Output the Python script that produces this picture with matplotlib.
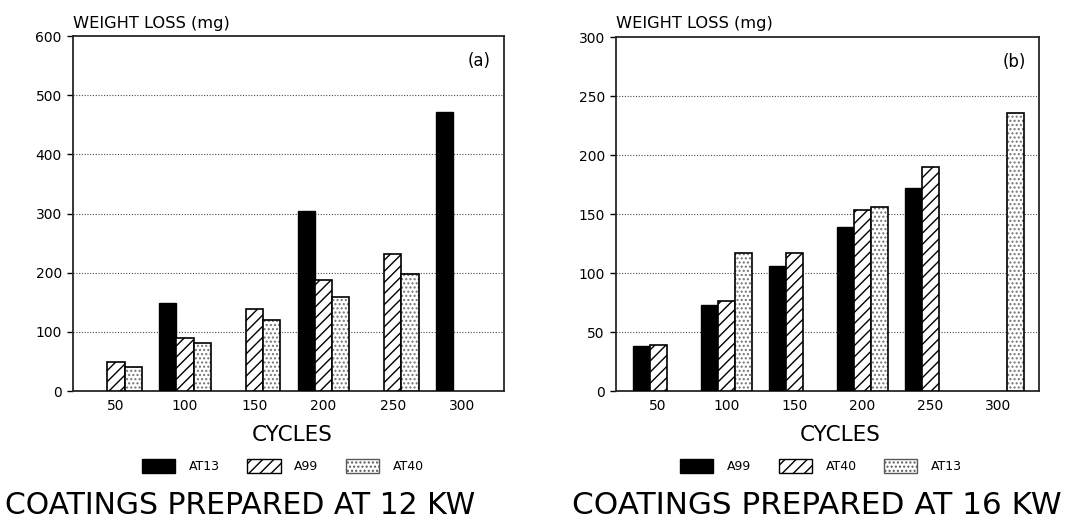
import matplotlib
matplotlib.use("Agg")
import matplotlib.pyplot as plt
import matplotlib.patches as mpatches
import numpy as np

plt.rcParams['hatch.linewidth'] = 1.0
plt.rcParams['font.family'] = ['DejaVu Sans']

cycles = ["50", "100", "150", "200", "250", "300"]

# Panel (a): coatings prepared at 12 kW
a_labels = ["AT13", "A99", "AT40"]
a_at13 = [0, 148, 0, 305, 0, 472]
a_a99 = [49, 90, 139, 187, 232, 0]
a_at40 = [40, 81, 120, 159, 198, 0]

# Panel (b): coatings prepared at 16 kW
b_labels = ["A99", "AT40", "AT13"]
b_a99 = [38, 73, 106, 139, 172, 0]
b_at40 = [39, 76, 117, 153, 190, 0]
b_at13 = [0, 117, 0, 156, 0, 236]

fig = plt.figure(figsize=(10.67, 5.19), dpi=100)
axa = fig.add_axes([0.0684, 0.2466, 0.404, 0.684])
axb = fig.add_axes([0.5773, 0.2466, 0.3964, 0.6821])

W = 0.25
SOLID = dict(facecolor='black', edgecolor='black', linewidth=1.0)
HATCH = dict(facecolor='white', edgecolor='black', hatch='///', linewidth=1.2)


def dotted(ax, x, h):
    ax.bar(x, h, W, facecolor='white', edgecolor='0.45', hatch='....', linewidth=0, zorder=3)
    ax.bar(x, h, W, fill=False, edgecolor='black', linewidth=1.2, zorder=3)


def fit(t, width_px):
    r = fig.canvas.get_renderer()
    w = t.get_window_extent(renderer=r).width
    t.set_fontsize(t.get_fontsize() * width_px / w)


def fy(py):
    return 1 - py / 519


def panel(ax, s1, s2, s3, ymax, ystep, tag, xl):
    x = np.arange(len(cycles))
    s1 = np.array(s1); s2 = np.array(s2); s3 = np.array(s3)
    m1 = s1 > 0; m2 = s2 > 0; m3 = s3 > 0
    ax.bar(x[m1] - W, s1[m1], W, **SOLID, zorder=3)
    ax.bar(x[m2], s2[m2], W, **HATCH, zorder=3)
    dotted(ax, x[m3] + W, s3[m3])
    ax.set_xlim(*xl)
    ax.set_ylim(0, ymax)
    yt = np.arange(0, ymax + 1, ystep)
    ax.set_yticks(yt)
    ax.set_xticks(x)
    ax.set_xticklabels(cycles, fontsize=10)
    ax.tick_params(axis='x', length=0, pad=6)
    ax.tick_params(axis='y', length=4, width=1.0, direction='out', pad=4, labelsize=10)
    for t in yt[1:-1]:
        ax.axhline(t, color='0.3', linestyle=(0, (1, 1.5)), linewidth=0.8, zorder=1)
    for sp in ax.spines.values():
        sp.set_linewidth(1.3)
        sp.set_color('0.15')
    ax.text(0.97, 0.93, tag, transform=ax.transAxes, ha='right', va='center', fontsize=12)


panel(axa, a_at13, a_a99, a_at40, 600, 100, "(a)", (-0.62, 5.61))
panel(axb, b_a99, b_at40, b_at13, 300, 50, "(b)", (-0.62, 5.6))

for x0 in (73, 616):
    t = fig.text(x0 / 1067, fy(28), "WEIGHT LOSS (mg)", ha='left', va='baseline',
                 fontsize=9)
    fit(t, 157)

for cx in (292, 840):
    t = fig.text(cx / 1067, fy(441), "CYCLES", ha='center', va='baseline', fontsize=12)
    fit(t, 80)


def legend_handles():
    h1 = mpatches.Patch(facecolor='black', edgecolor='black')
    h2 = mpatches.Patch(facecolor='white', edgecolor='black', hatch='///', linewidth=1.0)
    h3 = mpatches.Patch(facecolor='white', edgecolor='0.35', hatch='....', linewidth=1.0)
    return [h1, h2, h3]


for cx, labs in ((283 / 1067, a_labels), (821 / 1067, b_labels)):
    fig.legend(legend_handles(), labs, loc='center', bbox_to_anchor=(cx, fy(466)),
               ncol=3, frameon=False, fontsize=9, handlelength=2.65, handleheight=1.3,
               handletextpad=1.1, columnspacing=2.2)

for x0, w, txt in ((5, 470, "COATINGS PREPARED AT 12 KW"), (572, 490, "COATINGS PREPARED AT 16 KW")):
    t = fig.text(x0 / 1067, fy(514), txt, ha='left', va='baseline', fontsize=20)
    fit(t, w)

fig.savefig("out.png", dpi=100)
